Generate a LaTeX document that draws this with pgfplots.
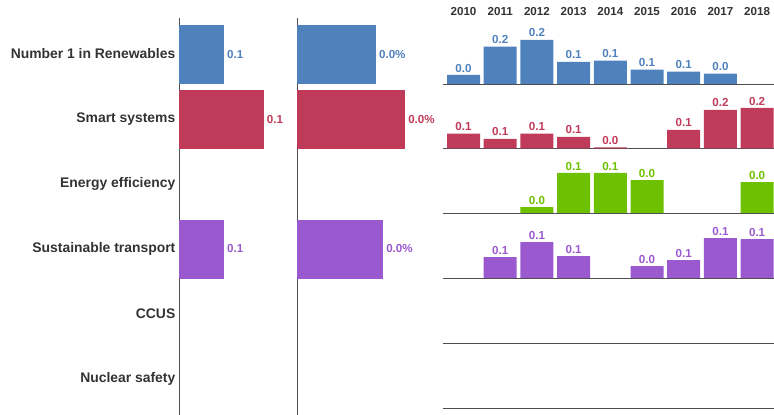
\documentclass[border=0pt]{standalone}
\usepackage{fontspec}
\setmainfont{Liberation Sans}
\usepackage{pgfplots}
\pgfplotsset{compat=1.18}
\definecolor{cblue}{RGB}{79,129,189}
\definecolor{cred}{RGB}{192,59,89}
\definecolor{cgreen}{RGB}{110,193,0}
\definecolor{cpurple}{RGB}{155,89,207}
\definecolor{axgray}{RGB}{80,80,80}
\definecolor{txt}{RGB}{51,51,51}
\tikzset{lab/.style={font=\bfseries\fontsize{11.6}{12}\selectfont}}
\pgfplotsset{
  hbarax/.style={anchor=south west, scale only axis, height=397pt,
    xmin=0, ymin=-0.554, ymax=5.554, y dir=reverse,
    axis x line=none, axis y line=left,
    axis line style={-, axgray, line width=0.8pt},
    xtick=\empty, ytick=\empty, major tick length=0pt,
    xbar, bar width=59pt, bar shift=0pt, point meta=x,
    nodes near coords, every node near coord/.append style={lab, inner sep=3pt},
    /pgf/number format/.cd, fixed, fixed zerofill, precision=1, assume math mode=true,
    /pgfplots/.cd, clip=false},
  rowax/.style={anchor=south west, scale only axis, width=331pt, height=50pt,
    xmin=-0.559, xmax=8.46, ymin=0,
    axis x line=bottom, axis y line=none,
    axis line style={-, axgray, line width=0.8pt},
    xtick=\empty, ytick=\empty, major tick length=0pt,
    ybar, bar width=33pt, bar shift=0pt,
    nodes near coords, every node near coord/.append style={lab, inner sep=2.5pt},
    /pgf/number format/.cd, fixed, fixed zerofill, precision=1, assume math mode=true,
    /pgfplots/.cd, clip=false},
}
\begin{document}
\begin{tikzpicture}[x=1pt,y=1pt]
\path[use as bounding box] (0,0) rectangle (774,415);

% Panel 1
\begin{axis}[hbarax, at={(179pt,0pt)}, width=111pt, xmax=0.148,
  ytick={0,1,2,3,4,5},
  yticklabels={Number 1 in Renewables, Smart systems, Energy efficiency, Sustainable transport, CCUS, Nuclear safety},
  yticklabel style={font=\bfseries\fontsize{13.9}{14}\selectfont, text=txt, inner sep=0pt, xshift=-3.5pt}]
\addplot[fill=cblue, draw=none, every node near coord/.append style={text=cblue}] coordinates {(0.060,0)};
\addplot[fill=cred, draw=none, every node near coord/.append style={text=cred}] coordinates {(0.113,1)};
\addplot[fill=cpurple, draw=none, every node near coord/.append style={text=cpurple}] coordinates {(0.060,3)};
\end{axis}

% Panel 2
\begin{axis}[hbarax, at={(297pt,0pt)}, width=143pt, xmax=0.0397,
  nodes near coords={\pgfmathprintnumber{\pgfplotspointmeta}\%}]
\addplot[fill=cblue, draw=none, every node near coord/.append style={text=cblue}] coordinates {(0.0219,0)};
\addplot[fill=cred, draw=none, every node near coord/.append style={text=cred}] coordinates {(0.0300,1)};
\addplot[fill=cpurple, draw=none, every node near coord/.append style={text=cpurple}] coordinates {(0.0239,3)};
\end{axis}

% Year header
\begin{axis}[anchor=south west, at={(443pt,398pt)}, scale only axis, width=331pt, height=1pt,
  xmin=-0.559, xmax=8.46, ymin=0, ymax=1,
  axis x line=top, axis y line=none, axis line style={draw=none},
  xtick={0,1,2,3,4,5,6,7,8}, xticklabels={2010,2011,2012,2013,2014,2015,2016,2017,2018},
  major tick length=0pt, ytick=\empty,
  xticklabel style={lab, text=txt, inner sep=0pt}]
\end{axis}

% Row 1
\begin{axis}[rowax, at={(443pt,331pt)}, ymax=0.2273]
\addplot[fill=cblue, draw=none, every node near coord/.append style={text=cblue}] coordinates
 {(0,0.041) (1,0.170) (2,0.201) (3,0.101) (4,0.106) (5,0.065) (6,0.056) (7,0.047)};
\end{axis}
% Row 2
\begin{axis}[rowax, at={(443pt,266.5pt)}, ymax=0.2778]
\addplot[fill=cred, draw=none, every node near coord/.append style={text=cred}] coordinates
 {(0,0.082) (1,0.054) (2,0.082) (3,0.065) (4,0.006) (6,0.104) (7,0.215) (8,0.226)};
\end{axis}
% Row 3
\begin{axis}[rowax, at={(443pt,202pt)}, ymax=0.06944]
\addplot[fill=cgreen, draw=none, every node near coord/.append style={text=cgreen}] coordinates
 {(2,0.008) (3,0.0556) (4,0.0556) (5,0.0458) (8,0.043)};
\end{axis}
% Row 4
\begin{axis}[rowax, at={(443pt,137pt)}, ymax=0.1667]
\addplot[fill=cpurple, draw=none, every node near coord/.append style={text=cpurple}] coordinates
 {(1,0.070) (2,0.120) (3,0.073) (5,0.040) (6,0.060) (7,0.133) (8,0.130)};
\end{axis}
% Row 5
\begin{axis}[rowax, at={(443pt,72pt)}, ymax=1]
\end{axis}
% Row 6
\begin{axis}[rowax, at={(443pt,7pt)}, ymax=1]
\end{axis}
\end{tikzpicture}
\end{document}
